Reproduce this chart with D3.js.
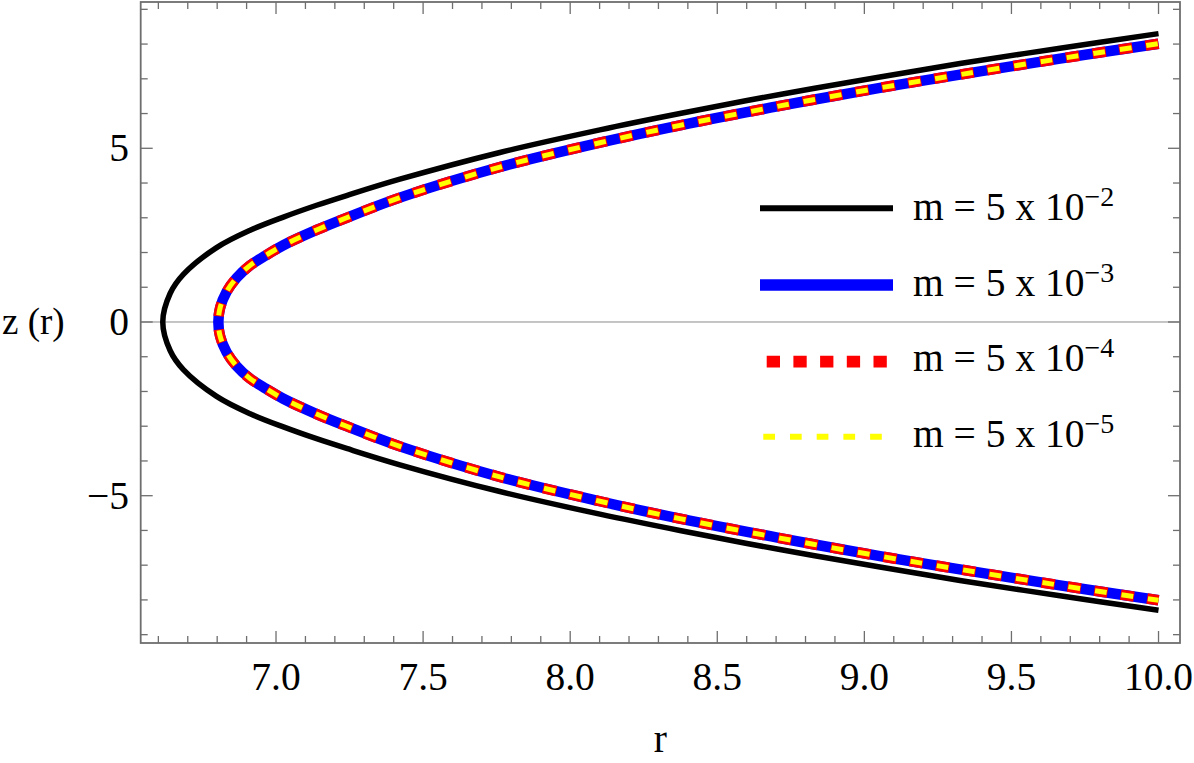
<!DOCTYPE html>
<html>
<head>
<meta charset="utf-8">
<script src="https://cdn.jsdelivr.net/npm/d3@7"></script>
<style>
  html, body { margin: 0; padding: 0; background: #fff; }
  svg { display: block; }
  text { font-family: "Liberation Serif", "Times New Roman", serif; fill: #000; }
</style>
</head>
<body>
<svg id="chart" width="1194" height="763"></svg>
<script>
// upper branch of z(r); lower branch is the mirror image (-z)
var rBlack = [6.615, 6.640, 6.685, 6.798, 6.912, 7.025, 7.138, 7.240, 7.421, 7.761, 8.101, 8.373, 8.713, 9.053, 9.325, 9.665, 10.0];
var zBlack = [0, 0.82, 1.37, 2.14, 2.64, 3.02, 3.36, 3.64, 4.11, 4.88, 5.53, 6.00, 6.55, 7.05, 7.44, 7.88, 8.30];

// m = 5e-3, 5e-4 and 5e-5 lie on top of each other in the picture
var rSmall = [6.804, 6.810, 6.832, 6.866, 6.912, 6.960, 7.025, 7.138, 7.240, 7.421, 7.761, 8.101, 8.373, 8.713, 9.053, 9.325, 9.665, 10.0];
var zSmall = [0, 0.41, 0.87, 1.27, 1.63, 1.89, 2.21, 2.65, 3.00, 3.58, 4.46, 5.16, 5.66, 6.22, 6.74, 7.12, 7.58, 8.01];

var seriesNames = ["m = 5 x 10", "m = 5 x 10", "m = 5 x 10", "m = 5 x 10"];
var seriesExp = ["\u22122", "\u22123", "\u22124", "\u22125"];

var xMajor = [7.0, 7.5, 8.0, 8.5, 9.0, 9.5, 10.0];
var yMajor = [-5, 0, 5];

var svg = d3.select("#chart");

var pLeft = 140.7, pRight = 1180, pTop = 2, pBottom = 643;
var x = d3.scaleLinear().domain([6.540, 10.073]).range([pLeft, pRight]);
var y = d3.scaleLinear().domain([-9.24, 9.211]).range([pBottom, pTop]);

var frameColor = "#6e6e6e";

// zero axis
svg.append("line")
  .attr("x1", pLeft).attr("x2", pRight)
  .attr("y1", y(0)).attr("y2", y(0))
  .attr("stroke", "#8a8a8a").attr("stroke-width", 1);

// ticks
var xMinor = d3.range(66, 101).map(function(d) { return d / 10; });
var yMinor = d3.range(-9, 10);
var ticks = svg.append("g").attr("stroke", frameColor).attr("stroke-width", 1.3);

xMinor.forEach(function(v) {
  var isMajor = xMajor.some(function(m) { return Math.abs(m - v) < 1e-6; });
  var len = isMajor ? 12 : 7;
  ticks.append("line").attr("x1", x(v)).attr("x2", x(v)).attr("y1", pBottom).attr("y2", pBottom - len);
  ticks.append("line").attr("x1", x(v)).attr("x2", x(v)).attr("y1", pTop).attr("y2", pTop + len);
});
yMinor.forEach(function(v) {
  var isMajor = yMajor.indexOf(v) >= 0;
  var len = isMajor ? 12 : 7;
  ticks.append("line").attr("y1", y(v)).attr("y2", y(v)).attr("x1", pLeft).attr("x2", pLeft + len);
  ticks.append("line").attr("y1", y(v)).attr("y2", y(v)).attr("x1", pRight).attr("x2", pRight - len);
});

// frame
svg.append("rect")
  .attr("x", pLeft).attr("y", pTop)
  .attr("width", pRight - pLeft).attr("height", pBottom - pTop)
  .attr("fill", "none").attr("stroke", frameColor).attr("stroke-width", 1.8);

// tick labels
svg.append("g").selectAll("text").data(xMajor).enter().append("text")
  .attr("x", function(d) { return x(d); })
  .attr("y", 690)
  .attr("text-anchor", "middle")
  .style("font-size", "39.5px")
  .text(function(d) { return d.toFixed(1); });

svg.append("g").selectAll("text").data(yMajor).enter().append("text")
  .attr("x", 129)
  .attr("y", function(d) { return y(d) + 13; })
  .attr("text-anchor", "end")
  .style("font-size", "39.5px")
  .text(function(d) { return d < 0 ? "\u2212" + Math.abs(d) : d; });

// axis labels
svg.append("text").attr("x", 2).attr("y", y(0) + 12)
  .style("font-size", "37px").text("z (r)");
svg.append("text").attr("x", (pLeft + pRight) / 2).attr("y", 752)
  .attr("text-anchor", "middle").style("font-size", "39.5px").text("r");

// curves
function branchPoints(rs, zs) {
  var pts = [];
  for (var i = rs.length - 1; i >= 1; i--) pts.push([rs[i], zs[i]]);
  for (var j = 0; j < rs.length; j++) pts.push([rs[j], -zs[j]]);
  return pts;
}
var line = d3.line()
  .x(function(d) { return x(d[0]); })
  .y(function(d) { return y(d[1]); })
  .curve(d3.curveCatmullRom.alpha(0.5));

var blackPts = branchPoints(rBlack, zBlack);
var smallPts = branchPoints(rSmall, zSmall);

var plot = svg.append("g").attr("fill", "none");
plot.append("path").attr("d", line(blackPts))
  .attr("stroke", "#000").attr("stroke-width", 5.5);
plot.append("path").attr("d", line(smallPts))
  .attr("stroke", "#0000ff").attr("stroke-width", 10.5);
plot.append("path").attr("d", line(smallPts))
  .attr("stroke", "#ff0000").attr("stroke-width", 10.5)
  .attr("stroke-dasharray", "13.3,13.4");
plot.append("path").attr("d", line(smallPts))
  .attr("stroke", "#ffff00").attr("stroke-width", 5)
  .attr("stroke-dasharray", "11.7,15").attr("stroke-dashoffset", -0.8);

// legend
var legendRows = [220, 295.5, 371, 447];
var lineY = [208.3, 285, 361.7, 436.7];
var legend = svg.append("g");

legend.append("line").attr("x1", 760).attr("x2", 893).attr("y1", lineY[0]).attr("y2", lineY[0])
  .attr("stroke", "#000").attr("stroke-width", 6);
legend.append("line").attr("x1", 760).attr("x2", 893).attr("y1", lineY[1]).attr("y2", lineY[1])
  .attr("stroke", "#0000ff").attr("stroke-width", 11.5);
legend.append("line").attr("x1", 766.7).attr("x2", 887).attr("y1", lineY[2]).attr("y2", lineY[2])
  .attr("stroke", "#ff0000").attr("stroke-width", 11.7).attr("stroke-dasharray", "13.3,13.4");
legend.append("line").attr("x1", 763.3).attr("x2", 884).attr("y1", lineY[3]).attr("y2", lineY[3])
  .attr("stroke", "#ffff00").attr("stroke-width", 6).attr("stroke-dasharray", "11.7,15");

seriesNames.forEach(function(name, i) {
  var t = legend.append("text").attr("x", 913).attr("y", legendRows[i]).style("font-size", "39.5px");
  t.append("tspan").text(name);
  t.append("tspan").attr("dy", -14).style("font-size", "28px").text(seriesExp[i]);
});
</script>
</body>
</html>
